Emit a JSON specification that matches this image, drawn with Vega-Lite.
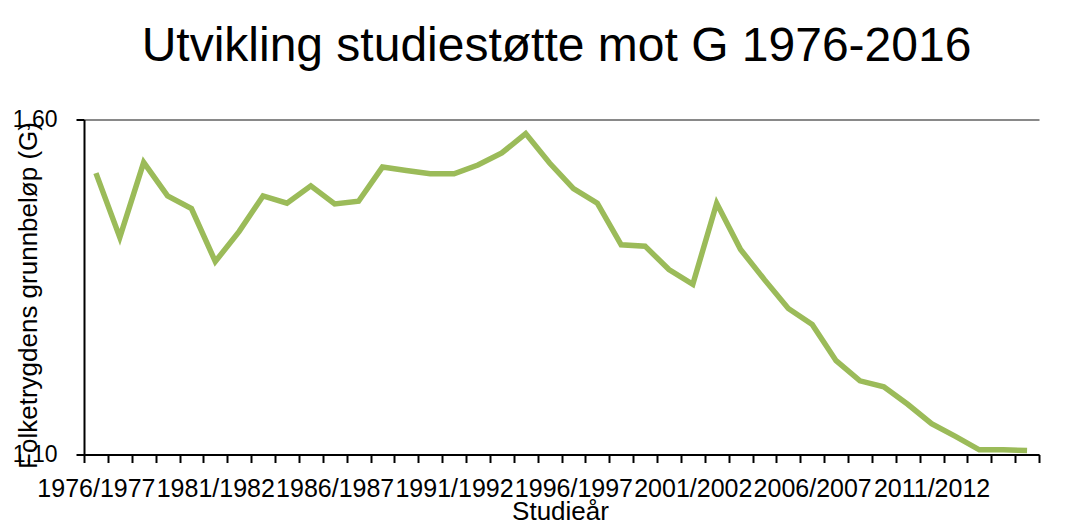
{
  "$schema": "https://vega.github.io/schema/vega-lite/v6.json",
  "width": 955,
  "height": 335,
  "autosize": {"type": "none"},
  "padding": {"left": 84, "top": 119.5, "right": 48, "bottom": 69.5},
  "background": "white",
  "title": {
    "text": "Utvikling studiestøtte mot G 1976-2016",
    "font": "Liberation Sans",
    "fontSize": 48,
    "fontWeight": "normal",
    "color": "black",
    "anchor": "middle",
    "dx": -5,
    "dy": -34
  },
  "data": {
    "values": [
      {"aar": "1976/1977", "G": 1.520},
      {"aar": "1977/1978", "G": 1.424},
      {"aar": "1978/1979", "G": 1.536},
      {"aar": "1979/1980", "G": 1.486},
      {"aar": "1980/1981", "G": 1.467},
      {"aar": "1981/1982", "G": 1.388},
      {"aar": "1982/1983", "G": 1.433},
      {"aar": "1983/1984", "G": 1.486},
      {"aar": "1984/1985", "G": 1.475},
      {"aar": "1985/1986", "G": 1.501},
      {"aar": "1986/1987", "G": 1.474},
      {"aar": "1987/1988", "G": 1.478},
      {"aar": "1988/1989", "G": 1.529},
      {"aar": "1989/1990", "G": 1.524},
      {"aar": "1990/1991", "G": 1.519},
      {"aar": "1991/1992", "G": 1.519},
      {"aar": "1992/1993", "G": 1.532},
      {"aar": "1993/1994", "G": 1.550},
      {"aar": "1994/1995", "G": 1.579},
      {"aar": "1995/1996", "G": 1.535},
      {"aar": "1996/1997", "G": 1.497},
      {"aar": "1997/1998", "G": 1.475},
      {"aar": "1998/1999", "G": 1.413},
      {"aar": "1999/2000", "G": 1.411},
      {"aar": "2000/2001", "G": 1.376},
      {"aar": "2001/2002", "G": 1.354},
      {"aar": "2002/2003", "G": 1.475},
      {"aar": "2003/2004", "G": 1.406},
      {"aar": "2004/2005", "G": 1.361},
      {"aar": "2005/2006", "G": 1.318},
      {"aar": "2006/2007", "G": 1.294},
      {"aar": "2007/2008", "G": 1.240},
      {"aar": "2008/2009", "G": 1.210},
      {"aar": "2009/2010", "G": 1.201},
      {"aar": "2010/2011", "G": 1.175},
      {"aar": "2011/2012", "G": 1.146},
      {"aar": "2012/2013", "G": 1.127},
      {"aar": "2013/2014", "G": 1.107},
      {"aar": "2014/2015", "G": 1.107},
      {"aar": "2015/2016", "G": 1.106}
    ]
  },
  "mark": {"type": "line", "color": "#9BBB59", "strokeWidth": 5.5, "clip": false},
  "encoding": {
    "x": {
      "field": "aar",
      "type": "ordinal",
      "sort": null,
      "scale": {"type": "band", "paddingInner": 0, "paddingOuter": 0},
      "axis": {
        "title": "Studieår",
        "titleFont": "Liberation Sans",
        "titleFontSize": 26,
        "titleFontWeight": "normal",
        "titleColor": "black",
        "titleX": 476,
        "titleY": 65,
        "titleAlign": "center",
        "titleBaseline": "alphabetic",
        "labelAngle": 0,
        "labelFont": "Liberation Sans",
        "labelFontSize": 25,
        "labelColor": "black",
        "labelPadding": 14,
        "labelOverlap": false,
        "labelBound": false,
        "labelExpr": "(toNumber(substring(datum.label,0,4)) - 1976) % 5 == 0 ? datum.label : ''",
        "tickBand": "extent",
        "ticks": true,
        "tickSize": 8,
        "tickWidth": 2,
        "tickColor": "black",
        "domainColor": "black",
        "domainWidth": 2,
        "grid": false
      }
    },
    "y": {
      "field": "G",
      "type": "quantitative",
      "scale": {"domain": [1.1, 1.6], "nice": false, "zero": false},
      "axis": {
        "title": "Folketrygdens grunnbeløp (G)",
        "titleFont": "Liberation Sans",
        "titleFontSize": 26,
        "titleFontWeight": "normal",
        "titleColor": "black",
        "titleAngle": 270,
        "titleX": -48,
        "titleY": 175.5,
        "titleAlign": "center",
        "titleBaseline": "alphabetic",
        "values": [1.1, 1.6],
        "labelExpr": "replace(format(datum.value, '.2f'), '.', ',')",
        "labelFont": "Liberation Sans",
        "labelFontSize": 23,
        "labelColor": "black",
        "labelPadding": 19,
        "labelBound": false,
        "labelFlush": false,
        "tickSize": 8,
        "tickWidth": 2,
        "tickColor": "black",
        "domainColor": "black",
        "domainWidth": 2,
        "grid": true,
        "gridColor": "#898989",
        "gridWidth": 2
      }
    }
  },
  "config": {"view": {"stroke": null}}
}
